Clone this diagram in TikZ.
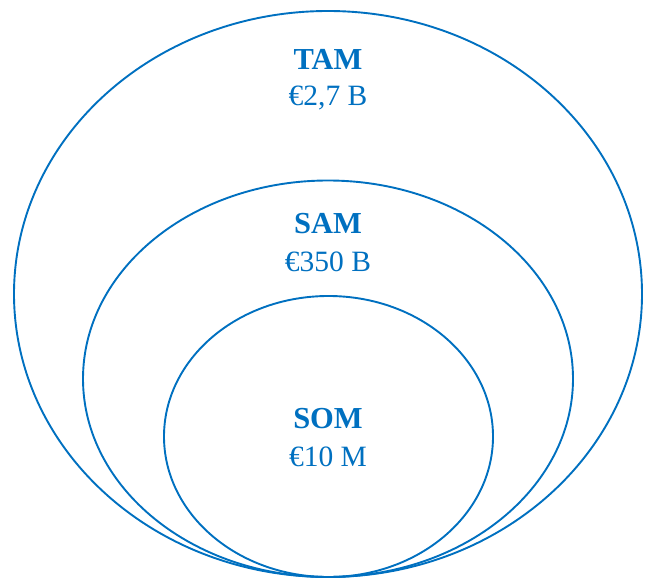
\documentclass[tikz,border=0pt]{standalone}
\usepackage{fontspec}
\setmainfont{Liberation Serif}
\usetikzlibrary{shapes.geometric}
\definecolor{marketblue}{HTML}{0070C0}
\begin{document}
\begin{tikzpicture}[x=1pt,y=-1pt,
  ring/.style={draw=marketblue, line width=1.9pt, ellipse, inner sep=0pt, outer sep=0pt},
  tag/.style={text=marketblue, font=\fontsize{30.5}{39}\selectfont\bfseries, inner sep=0pt, anchor=center},
  amount/.style={text=marketblue, font=\fontsize{29.5}{39}\selectfont, inner sep=0pt, anchor=center}]
  \useasboundingbox (0,0) rectangle (650,580);
  % nested markets, all touching at the bottom
  \node[ring, minimum width=628pt, minimum height=566pt] (tam) at (328,294) {};
  \node[ring, minimum width=490pt, minimum height=396.5pt] (sam) at (328,378.75) {};
  \node[ring, minimum width=329pt, minimum height=281pt] (som) at (328.5,436.5) {};
  % labels
  \node[tag] (tamlbl) at (328,59) {TAM};
  \node[amount] (tamval) at (328,98) {€2,7 B};
  \node[tag] (samlbl) at (328,224) {SAM};
  \node[amount] (samval) at (328,262) {€350 B};
  \node[tag] (somlbl) at (328,419) {SOM};
  \node[amount] (somval) at (328,457) {€10 M};
\end{tikzpicture}
\end{document}
